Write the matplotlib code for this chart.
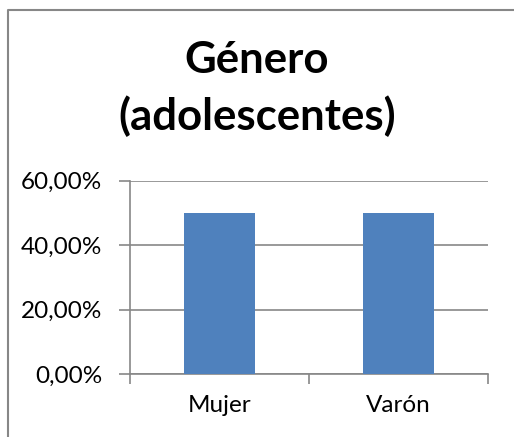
import matplotlib
matplotlib.use('Agg')
import matplotlib.pyplot as plt
from matplotlib.lines import Line2D
from matplotlib.ticker import FuncFormatter

categorias = ['Mujer', 'Varón']
porcentajes = [50.0, 50.0]
yticks = [0, 20, 40, 60]
titulo = ['Género', '(adolescentes)']

plt.rcParams['font.family'] = ['Lato', 'DejaVu Sans']

fig = plt.figure(figsize=(5.14, 4.37), dpi=100)
ax = fig.add_axes([0.2529, 0.1442, 0.6965, 0.4423])

gris = '#878787'
x = range(len(categorias))
ax.bar(x, porcentajes, width=0.4, color='#4f81bd', zorder=3)
ax.set_xlim(-0.5, len(categorias) - 0.5)
ax.set_ylim(0, 60)
ax.set_yticks(yticks)
ax.yaxis.set_major_formatter(FuncFormatter(lambda v, p: f'{v:.2f}%'.replace('.', ',')))
ax.set_xticks(list(x))
ax.set_xticklabels(categorias)
ax.set_xticks([-0.5, 0.5, 1.5], minor=True)
ax.tick_params(axis='x', which='major', length=0, pad=15, labelsize=17.5)
ax.tick_params(axis='x', which='minor', length=7, width=1.2, color=gris)
ax.tick_params(axis='y', length=8, width=1.2, color=gris, pad=12, labelsize=17.5)
ax.grid(axis='y', color=gris, linewidth=1.2, zorder=0)
for s in ['top', 'right']:
    ax.spines[s].set_visible(False)
for s in ['left', 'bottom']:
    ax.spines[s].set_color(gris)
    ax.spines[s].set_linewidth(1.2)

# titulo en dos lineas, alineado por la linea base
fig.text(0.5, 1 - 73/437, titulo[0], ha='center', va='baseline', fontsize=31.5,
         fontweight='bold')
fig.text(0.5, 1 - 130/437, titulo[1], ha='center', va='baseline', fontsize=31.5,
         fontweight='bold')

# marco del gráfico (solo se ven arriba e izquierda)
fig.add_artist(Line2D([8/514, 8/514, 1.0], [0.0, 1 - 10/437, 1 - 10/437],
                      transform=fig.transFigure, color=gris, linewidth=1.5))

fig.savefig('out.png', dpi=100)
